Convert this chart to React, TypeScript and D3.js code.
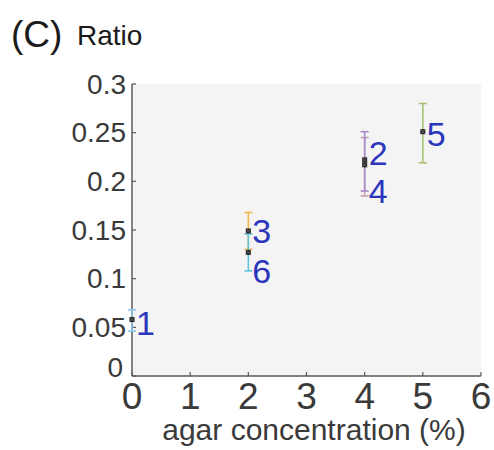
import React from "react";
import { scaleLinear } from "d3";

// samples, in label order
const sampleIds = ["1", "2", "3", "4", "5", "6"];
const agar = [0, 4, 2, 4, 5, 2];
const ratio = [0.058, 0.222, 0.149, 0.217, 0.251, 0.127];
const errLow = [0.046, 0.19, 0.13, 0.185, 0.219, 0.108];
const errHigh = [0.068, 0.251, 0.168, 0.245, 0.28, 0.146];
const barColors = ["#8cc6e6", "#a98ac8", "#f0b848", "#c2a2b4", "#a9c172", "#62c6d8"];
// draw order so overlapping bars stack like the figure
const drawOrder = [0, 3, 1, 2, 5, 4];

const xTicks = [0, 1, 2, 3, 4, 5, 6];
const yTicks = [0, 0.05, 0.1, 0.15, 0.2, 0.25, 0.3];
const yTickLabels = ["0", "0.05", "0.1", "0.15", "0.2", "0.25", "0.3"];

// vertical nudge (px) of the number labels so they don't overlap
const labelNudge = [3, -7, 0, 26, 2, 19];

const font = "'Liberation Sans', Arial, Helvetica, sans-serif";

export default function App() {
  const width = 494;
  const height = 450;
  const left = 132;
  const right = 481;
  const top = 84;
  const bottom = 376;

  const x = scaleLinear().domain([0, 6]).range([left, right]);
  const y = scaleLinear().domain([0, 0.3]).range([bottom, top]);

  const axisColor = "#5a5a5a";
  const textColor = "#3a3a3a";
  const labelColor = "#2b36bd";

  return (
    <svg
      width={width}
      height={height}
      style={{ position: "absolute", left: 0, top: 0, background: "white" }}
    >
      <text x={11} y={47} fontFamily={font} fontSize={37} fill="#1a1a1a">
        (C)
      </text>
      <text x={77} y={45} fontFamily={font} fontSize={28} fill="#1a1a1a">
        Ratio
      </text>

      <rect x={left} y={top} width={right - left} height={bottom - top} fill="#f4f4f4" />

      {/* axes */}
      <line x1={left} y1={top} x2={left} y2={bottom} stroke={axisColor} strokeWidth={1.5} />
      <line x1={left} y1={bottom} x2={right} y2={bottom} stroke={axisColor} strokeWidth={1.5} />

      {yTicks.map((t, i) => (
        <g key={"y" + i}>
          <line x1={left} x2={left + 4} y1={y(t)} y2={y(t)} stroke={axisColor} strokeWidth={1.2} />
          <text
            x={left - (t === 0 ? 9 : 6)}
            y={y(t) - (t === 0 ? 9 : 0)}
            textAnchor="end"
            dominantBaseline="central"
            fontFamily={font}
            fontSize={28}
            fill={textColor}
          >
            {yTickLabels[i]}
          </text>
        </g>
      ))}

      {xTicks.map((t) => (
        <g key={"x" + t}>
          <line x1={x(t)} x2={x(t)} y1={bottom} y2={bottom - 4} stroke={axisColor} strokeWidth={1.2} />
          <text x={x(t)} y={409} textAnchor="middle" fontFamily={font} fontSize={37} fill={textColor}>
            {t}
          </text>
        </g>
      ))}

      <text x={314} y={440} textAnchor="middle" fontFamily={font} fontSize={30} fill={textColor}>
        agar concentration (%)
      </text>

      {/* error bars */}
      {drawOrder.map((i) => (
        <g key={"e" + i} stroke={barColors[i]} strokeWidth={1.6}>
          <line x1={x(agar[i])} x2={x(agar[i])} y1={y(errLow[i])} y2={y(errHigh[i])} />
          <line x1={x(agar[i]) - 4} x2={x(agar[i]) + 4} y1={y(errLow[i])} y2={y(errLow[i])} />
          <line x1={x(agar[i]) - 4} x2={x(agar[i]) + 4} y1={y(errHigh[i])} y2={y(errHigh[i])} />
        </g>
      ))}

      {/* markers */}
      {sampleIds.map((id, i) => {
        const cx = x(agar[i]);
        const cy = y(ratio[i]);
        return (
          <g key={"m" + id}>
            <rect x={cx - 2.5} y={cy - 2.5} width={5} height={5} fill="#1c1c1c" />
            <path
              d={`M${cx - 2.5},${cy - 2.5}L${cx + 2.5},${cy + 2.5}M${cx + 2.5},${cy - 2.5}L${cx - 2.5},${cy + 2.5}`}
              stroke="#777"
              strokeWidth={0.8}
            />
          </g>
        );
      })}

      {/* sample numbers */}
      {sampleIds.map((id, i) => (
        <text
          key={"l" + id}
          x={x(agar[i]) + 4}
          y={y(ratio[i]) + labelNudge[i]}
          dominantBaseline="central"
          fontFamily={font}
          fontSize={34}
          fill={labelColor}
        >
          {id}
        </text>
      ))}
    </svg>
  );
}
